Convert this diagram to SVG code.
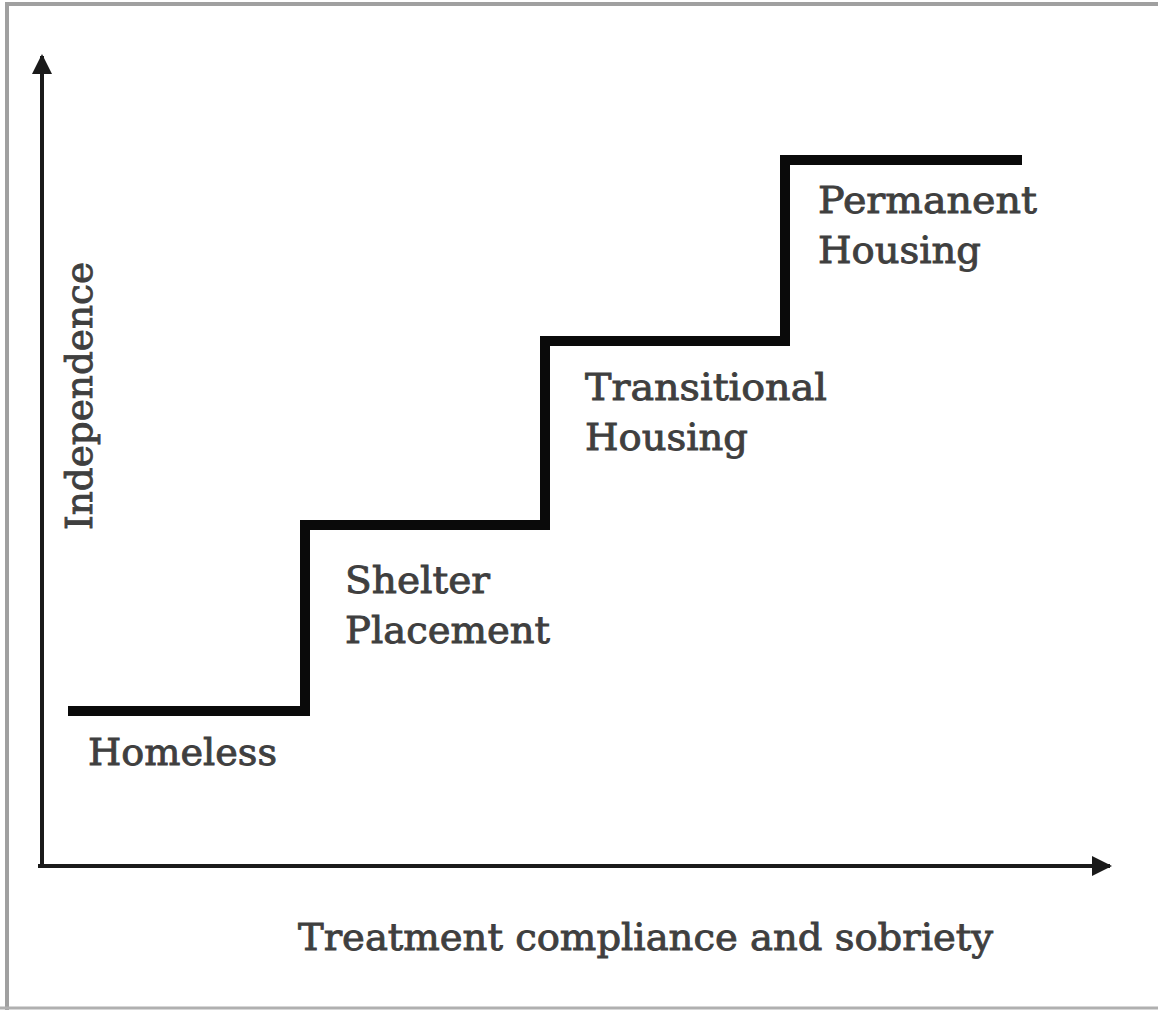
<svg xmlns="http://www.w3.org/2000/svg" width="1158" height="1010" viewBox="0 0 1158 1010">
<style>
.lbl{font-family:"DejaVu Serif","Liberation Serif",serif;font-size:38px;fill:#3f3f3f;stroke:#3f3f3f;stroke-width:0.9;}
.axis{stroke:#1a1a1a;stroke-width:4;fill:none;}
.step{stroke:#0a0a0a;stroke-width:10;fill:none;stroke-linejoin:miter;}
</style>
<defs>
<marker id="arr" viewBox="0 0 10 10" refX="9" refY="5" markerWidth="5" markerHeight="5" orient="auto" markerUnits="strokeWidth">
<path d="M0,0 L10,5 L0,10 z" fill="#1a1a1a"/>
</marker>
</defs>
<rect width="1158" height="1010" fill="#ffffff"/>
<g id="frame">
<path d="M7,1010 L7,4 L1158,4" stroke="#a0a0a0" stroke-width="4" fill="none"/>
<line x1="0" y1="1008" x2="1158" y2="1008" stroke="#b0b0b0" stroke-width="3"/>
</g>
<g id="connectors">
<line class="axis" x1="42" y1="868" x2="42" y2="56" marker-end="url(#arr)"/>
<line class="axis" x1="38" y1="866" x2="1110" y2="866" marker-end="url(#arr)"/>
<path class="step" d="M68,711 L305,711 L305,525 L545,525 L545,341 L785,341 L785,160 L1022,160"/>
</g>
<g id="homeless"><text class="lbl" x="88" y="765" textLength="189" lengthAdjust="spacingAndGlyphs">Homeless</text></g>
<g id="shelter"><text class="lbl" x="345" y="593" textLength="145" lengthAdjust="spacingAndGlyphs">Shelter</text><text class="lbl" x="345" y="643" textLength="205" lengthAdjust="spacingAndGlyphs">Placement</text></g>
<g id="transitional"><text class="lbl" x="585" y="400" textLength="242" lengthAdjust="spacingAndGlyphs">Transitional</text><text class="lbl" x="585" y="450" textLength="163" lengthAdjust="spacingAndGlyphs">Housing</text></g>
<g id="permanent"><text class="lbl" x="818" y="213" textLength="219" lengthAdjust="spacingAndGlyphs">Permanent</text><text class="lbl" x="818" y="263" textLength="163" lengthAdjust="spacingAndGlyphs">Housing</text></g>
<g id="y-label"><text class="lbl" transform="translate(92,530) rotate(-90)" x="0" y="0" textLength="268" lengthAdjust="spacingAndGlyphs">Independence</text></g>
<g id="x-label"><text class="lbl" x="298" y="950" textLength="695" lengthAdjust="spacingAndGlyphs">Treatment compliance and sobriety</text></g>
</svg>
